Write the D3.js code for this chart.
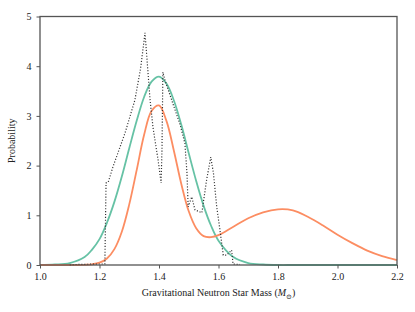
<!DOCTYPE html>
<html>
<head>
<meta charset="utf-8">
<script src="https://cdn.jsdelivr.net/npm/d3@7"></script>
<style>
  body { margin: 0; background: #fff; }
  svg text { font-family: "Liberation Serif", "DejaVu Serif", serif; fill: #222; }
</style>
</head>
<body>
<div id="chart"></div>
<script>
// mass grid for the two smooth curves
const massGrid = [1.00, 1.05, 1.10, 1.15, 1.175, 1.20, 1.225, 1.25, 1.275, 1.30, 1.325, 1.35, 1.375,
                  1.40, 1.425, 1.45, 1.475, 1.50, 1.525, 1.55, 1.575, 1.60, 1.65, 1.70, 1.75,
                  1.80, 1.85, 1.90, 1.95, 2.00, 2.05, 2.10, 2.15, 2.20];
// green curve
const greenProb = [0.00, 0.01, 0.04, 0.16, 0.31, 0.52, 0.85, 1.27, 1.78, 2.35, 2.90, 3.38, 3.69,
                   3.79, 3.65, 3.31, 2.82, 2.25, 1.69, 1.19, 0.79, 0.49, 0.16, 0.04, 0.01,
                   0.00, 0.00, 0.00, 0.00, 0.00, 0.00, 0.00, 0.00, 0.00];
// orange curve (two peaks)
const orangeProb = [0.00, 0.00, 0.00, 0.004, 0.014, 0.046, 0.13, 0.32, 0.67, 1.22, 1.91, 2.62, 3.10,
                    3.21, 2.90, 2.30, 1.63, 1.08, 0.74, 0.58, 0.56, 0.60, 0.77, 0.94, 1.06,
                    1.12, 1.10, 0.97, 0.80, 0.61, 0.44, 0.29, 0.18, 0.10];
// dotted histogram-like curve
const dotMass = [1.10, 1.12, 1.20, 1.218, 1.222, 1.229, 1.245, 1.286, 1.319, 1.338, 1.353, 1.370, 1.380,
                 1.397, 1.407, 1.410, 1.413, 1.420, 1.437, 1.454, 1.471, 1.487, 1.494, 1.498, 1.510,
                 1.521, 1.544, 1.560, 1.574, 1.583, 1.594, 1.605, 1.616, 1.628, 1.644, 1.649, 1.672];
const dotProb = [0.00, 0.01, 0.02, 0.02, 1.65, 1.66, 1.97, 2.66, 3.32, 3.95, 4.67, 3.32, 2.76,
                 2.11, 1.65, 2.31, 3.88, 3.72, 3.42, 3.12, 2.82, 2.45, 1.85, 1.17, 1.37,
                 1.11, 1.05, 1.71, 2.17, 1.85, 1.17, 0.70, 0.20, 0.20, 0.30, 0.02, 0.01];

const xTicks = [1.0, 1.2, 1.4, 1.6, 1.8, 2.0, 2.2];
const yTicks = [0, 1, 2, 3, 4, 5];

const width = 415, height = 312;
const margin = {top: 16.5, right: 18, bottom: 47, left: 40};

const svg = d3.select("#chart").append("svg")
    .attr("width", width)
    .attr("height", height);

const x = d3.scaleLinear().domain([1.0, 2.2]).range([margin.left, width - margin.right]);
const y = d3.scaleLinear().domain([0, 5]).range([height - margin.bottom, margin.top]);

const smooth = d3.line()
    .x(d => x(d[0]))
    .y(d => y(Math.max(0, d[1])))
    .curve(d3.curveCatmullRom.alpha(0.5));

const straight = d3.line()
    .x(d => x(d[0]))
    .y(d => y(d[1]));

// curves
svg.append("path")
    .datum(d3.zip(massGrid, greenProb))
    .attr("fill", "none")
    .attr("stroke", "#66c2a5")
    .attr("stroke-width", 1.8)
    .attr("d", smooth);

svg.append("path")
    .datum(d3.zip(massGrid, orangeProb))
    .attr("fill", "none")
    .attr("stroke", "#fc8d62")
    .attr("stroke-width", 1.8)
    .attr("d", smooth);

svg.append("path")
    .datum(d3.zip(dotMass, dotProb))
    .attr("fill", "none")
    .attr("stroke", "#333")
    .attr("stroke-width", 1.2)
    .attr("stroke-dasharray", "1.1,1.8")
    .attr("d", straight);

// axes
const xAxis = svg.append("g")
    .attr("transform", `translate(0,${y(0)})`)
    .call(d3.axisBottom(x).tickValues(xTicks).tickFormat(d3.format(".1f")).tickSize(3.5).tickPadding(4));
const yAxis = svg.append("g")
    .attr("transform", `translate(${x(1.0)},0)`)
    .call(d3.axisLeft(y).tickValues(yTicks).tickFormat(d3.format("d")).tickSize(3.5).tickPadding(5));

[xAxis, yAxis].forEach(g => {
  g.select(".domain").remove();
  g.selectAll(".tick line").attr("stroke", "#555").attr("stroke-width", 1);
  g.selectAll(".tick text").attr("font-size", 10).attr("fill", "#222")
    .style("font-family", '"Liberation Serif", serif');
});

// frame
svg.append("rect")
    .attr("x", x(1.0))
    .attr("y", y(5))
    .attr("width", x(2.2) - x(1.0))
    .attr("height", y(0) - y(5))
    .attr("fill", "none")
    .attr("stroke", "#555")
    .attr("stroke-width", 1.3);

// labels
const xl = svg.append("text")
    .attr("x", (x(1.0) + x(2.2)) / 2)
    .attr("y", 296)
    .attr("text-anchor", "middle")
    .attr("font-size", 10);
xl.append("tspan").text("Gravitational Neutron Star Mass (");
xl.append("tspan").attr("font-style", "italic").text("M");
xl.append("tspan").attr("font-size", 7).attr("dy", 2.5).text("⊙");
xl.append("tspan").attr("dy", -2.5).text(")");

svg.append("text")
    .attr("transform", `translate(15,${(y(0) + y(5)) / 2}) rotate(-90)`)
    .attr("text-anchor", "middle")
    .attr("font-size", 10)
    .text("Probability");
</script>
</body>
</html>
